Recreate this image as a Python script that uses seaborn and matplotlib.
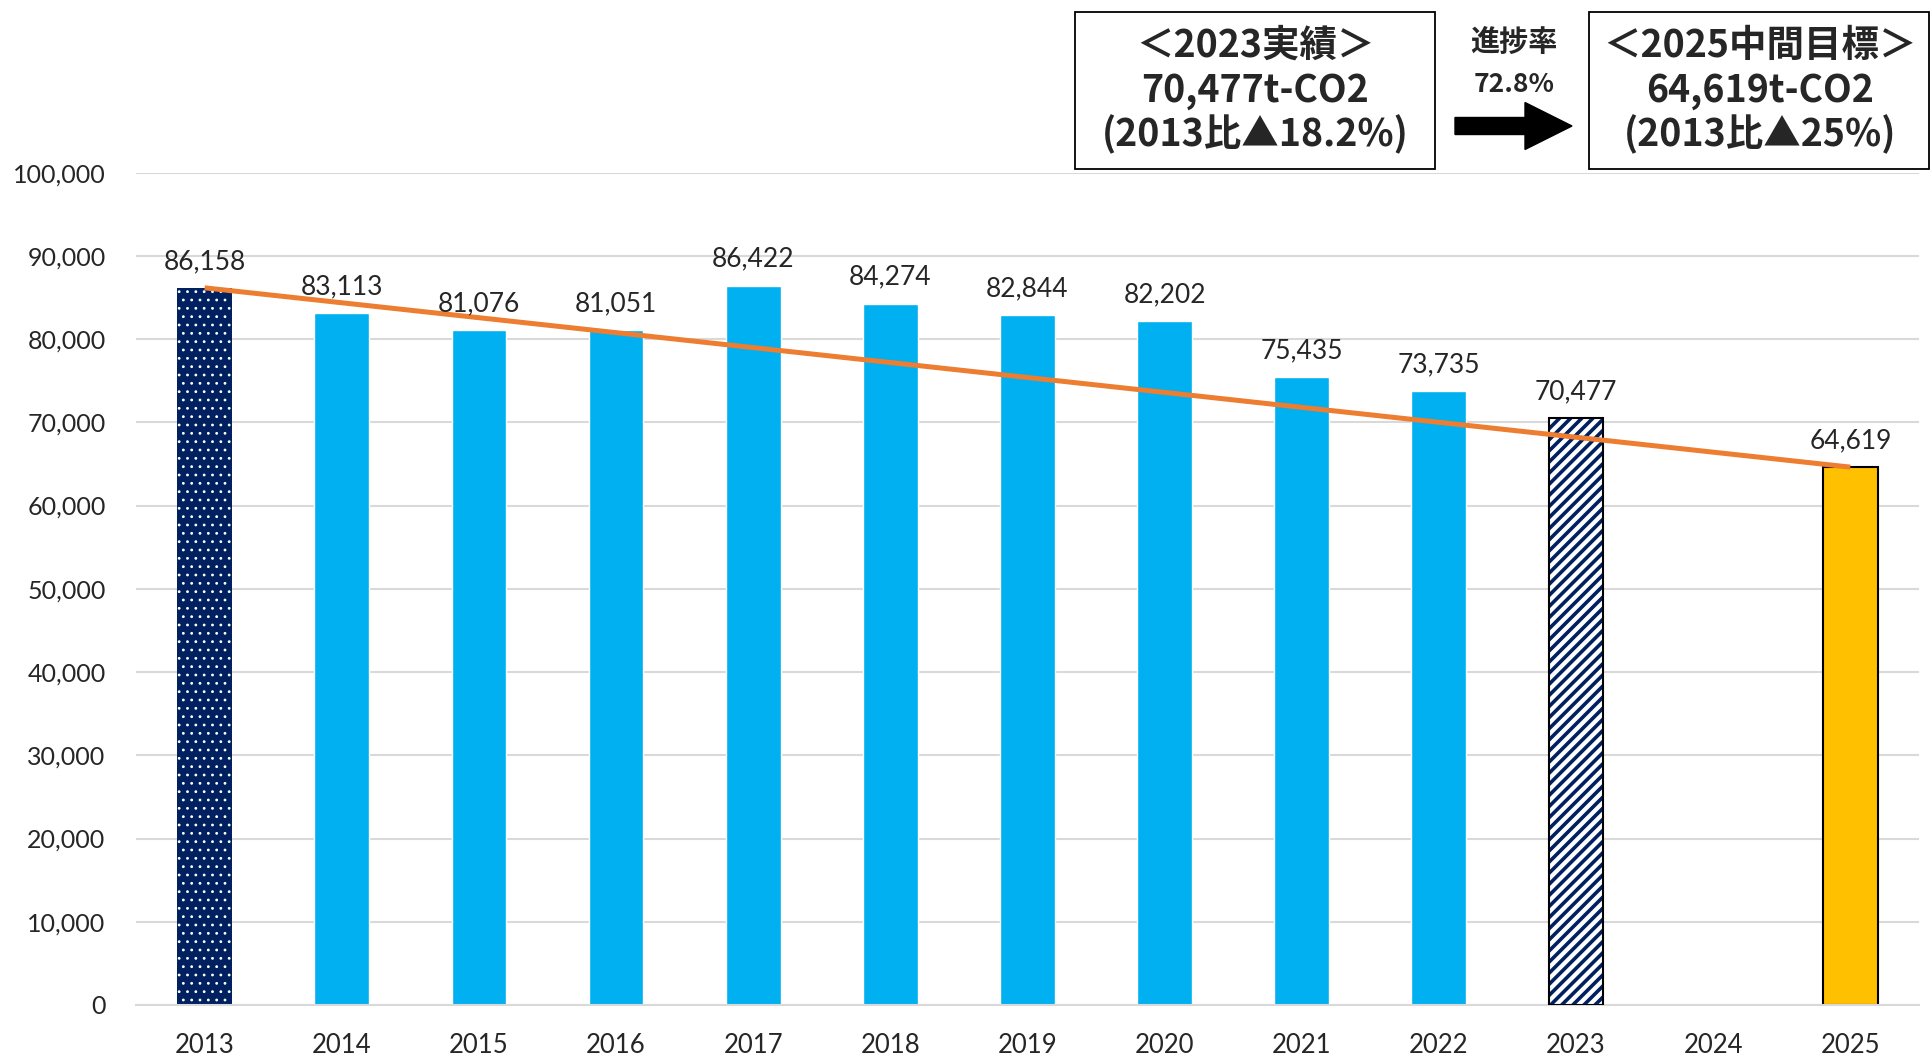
import numpy as np
import pandas as pd
import seaborn as sns
import matplotlib.pyplot as plt
from matplotlib.patches import Rectangle, FancyArrow
from matplotlib.ticker import StrMethodFormatter

# データ（t-CO2）
years = ['2013', '2014', '2015', '2016', '2017', '2018', '2019',
         '2020', '2021', '2022', '2023', '2024', '2025']
emissions = [86158, 83113, 81076, 81051, 86422, 84274, 82844,
             82202, 75435, 73735, 70477, np.nan, 64619]
y_ticks = [0, 10000, 20000, 30000, 40000, 50000, 60000, 70000, 80000, 90000, 100000]

# 囲みの文言
box_left = ['＜2023実績＞', '70,477t-CO2', '(2013比▲18.2%)']
box_right = ['＜2025中間目標＞', '64,619t-CO2', '(2013比▲25%)']
progress = ['進捗率', '72.8%']

navy = '#002060'
sky = '#00B0F0'
gold = '#FFC000'
orange = '#ED7D31'
grid_gray = '#D9D9D9'

sns.set_style('white')
plt.rcParams['font.family'] = ['Lato', 'DejaVu Sans']
plt.rcParams['hatch.linewidth'] = 2.6

df = pd.DataFrame({'year': years, 'value': emissions}).dropna()

fig = plt.figure(figsize=(19.33, 10.57), dpi=100)
ax = fig.add_axes([0.0704, 0.0492, 0.9223, 0.7875])

sns.barplot(data=df, x='year', y='value', order=years, color=sky,
            saturation=1, width=0.4, errorbar=None, ax=ax, zorder=2)

# 棒ごとの塗り分けとラベル
for p in list(ax.patches):
    idx = int(round(p.get_x() + p.get_width() / 2))
    yr = years[idx]
    h = p.get_height()
    if yr == '2013':
        p.set_facecolor(navy)
        p.set_edgecolor('white')
        p.set_linewidth(0)
        p.set_hatch('..')
        if hasattr(p, 'set_hatch_linewidth'):
            p.set_hatch_linewidth(0.8)
    elif yr == '2023':
        p.set_facecolor('white')
        p.set_edgecolor(navy)
        p.set_linewidth(0)
        p.set_hatch('///')
        ax.add_patch(Rectangle(p.get_xy(), p.get_width(), h, fill=False,
                               edgecolor='black', linewidth=1.5, zorder=3))
    elif yr == '2025':
        p.set_facecolor(gold)
        p.set_edgecolor('black')
        p.set_linewidth(1.5)
    ax.annotate(f'{int(h):,}', (p.get_x() + p.get_width() / 2, h),
                xytext=(0, 10), textcoords='offset points',
                ha='center', va='bottom', fontsize=19, zorder=5)

# 基準年から目標年への推移線
i0, i1 = years.index('2013'), years.index('2025')
ax.plot([i0, i1], [emissions[i0], emissions[i1]], color=orange,
        linewidth=3.6, solid_capstyle='butt', zorder=4)

ax.set_ylim(0, 100000)
ax.set_xlim(-0.5, len(years) - 0.5)
ax.set_yticks(y_ticks)
ax.yaxis.set_major_formatter(StrMethodFormatter('{x:,.0f}'))
ax.yaxis.grid(True, color=grid_gray, linewidth=1.5)
ax.set_axisbelow(True)
ax.set_xlabel('')
ax.set_ylabel('')
for s in ['top', 'right', 'left']:
    ax.spines[s].set_visible(False)
ax.spines['bottom'].set_color(grid_gray)
ax.spines['bottom'].set_linewidth(1.5)
ax.tick_params(axis='y', length=0, pad=22, labelsize=18)
ax.tick_params(axis='x', length=0, pad=20, labelsize=18.5)

# 上部の囲み（ピクセル座標）
ov = fig.add_axes([0, 0, 1, 1], facecolor='none')
ov.set_xlim(0, 1933)
ov.set_ylim(1057, 0)
ov.axis('off')

jp = ['Noto Sans CJK JP', 'DejaVu Sans']
ov.add_patch(Rectangle((1075, 12), 360, 157, fill=False, edgecolor='black', linewidth=1.3))
ov.add_patch(Rectangle((1589, 12), 340, 157, fill=False, edgecolor='black', linewidth=1.3))
for k, y in enumerate([45, 90, 134]):
    ov.text(1255, y, box_left[k], ha='center', va='center', fontsize=27,
            fontweight='bold', family=jp)
    ov.text(1760, y, box_right[k], ha='center', va='center', fontsize=27,
            fontweight='bold', family=jp)
ov.text(1514, 42, progress[0], ha='center', va='center', fontsize=21,
        fontweight='bold', family=jp)
ov.text(1514, 84, progress[1], ha='center', va='center', fontsize=19,
        fontweight='bold', family=jp)
ov.add_patch(FancyArrow(1455, 126, 117, 0, width=17, head_width=47,
                        head_length=47, length_includes_head=True,
                        color='black'))

fig.savefig('out.png', dpi=100)
